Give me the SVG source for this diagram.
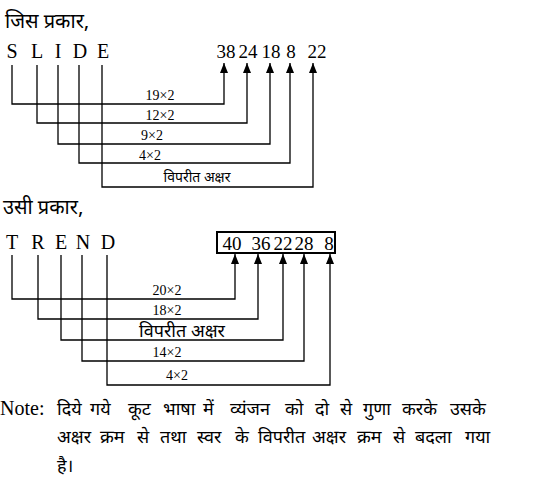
<svg xmlns="http://www.w3.org/2000/svg" width="558" height="494" viewBox="0 0 558 494">
<style>
.lt{font-family:"Liberation Serif","Times New Roman",serif;font-size:20px;fill:#000}
.num{font-family:"Liberation Serif","Times New Roman",serif;font-size:19px;fill:#000}
.lb{font-family:"Liberation Serif","Times New Roman",serif;font-size:14px;fill:#000;text-anchor:middle}
.hi{font-family:"Noto Sans Devanagari","Noto Serif Devanagari","Lohit Devanagari","Noto Sans","DejaVu Sans",sans-serif;fill:#000}
.nt{font-family:"Noto Sans Devanagari","Noto Serif Devanagari","Noto Sans",sans-serif;font-size:18px;fill:#000}
.ln{fill:none;stroke:#000;stroke-width:1.3}
</style>
<defs>
<marker id="ah" viewBox="0 0 10 8" refX="10" refY="4" markerWidth="10" markerHeight="8" markerUnits="userSpaceOnUse" orient="auto">
<path d="M0,0 L10,4 L0,8 Z" fill="#000"/>
</marker>
</defs>
<rect width="558" height="494" fill="#fff"/>
<g id="title1"><text class="hi" x="5" y="28" font-size="20">जिस प्रकार,</text></g>
<g id="slide">
<text class="lt" x="12" y="58" text-anchor="middle">S</text>
<text class="lt" x="37" y="58" text-anchor="middle">L</text>
<text class="lt" x="58" y="58" text-anchor="middle">I</text>
<text class="lt" x="80" y="58" text-anchor="middle">D</text>
<text class="lt" x="103" y="58" text-anchor="middle">E</text>
</g>
<g id="slide-out">
<text class="num" x="226" y="58" text-anchor="middle">38</text>
<text class="num" x="248" y="58" text-anchor="middle">24</text>
<text class="num" x="271" y="58" text-anchor="middle">18</text>
<text class="num" x="291" y="58" text-anchor="middle">8</text>
<text class="num" x="317" y="58" text-anchor="middle">22</text>
</g>
<g id="connectors1">
<path class="ln" d="M12,65 V104 H224 V63" marker-end="url(#ah)"/>
<path class="ln" d="M37,65 V123 H247 V63" marker-end="url(#ah)"/>
<path class="ln" d="M58,65 V144 H270 V63" marker-end="url(#ah)"/>
<path class="ln" d="M79,65 V163 H290 V63" marker-end="url(#ah)"/>
<path class="ln" d="M102,65 V187 H313 V63" marker-end="url(#ah)"/>
</g>
<g id="labels1">
<text class="lb" x="160" y="100">19×2</text>
<text class="lb" x="160" y="120">12×2</text>
<text class="lb" x="152" y="140">9×2</text>
<text class="lb" x="150" y="160">4×2</text>
<text class="hi" x="197" y="182" font-size="14" text-anchor="middle">विपरीत अक्षर</text>
</g>
<g id="title2"><text class="hi" x="3" y="214" font-size="20">उसी प्रकार,</text></g>
<g id="trend">
<text class="lt" x="12" y="249" text-anchor="middle">T</text>
<text class="lt" x="38" y="249" text-anchor="middle">R</text>
<text class="lt" x="61" y="249" text-anchor="middle">E</text>
<text class="lt" x="83" y="249" text-anchor="middle">N</text>
<text class="lt" x="108" y="249" text-anchor="middle">D</text>
</g>
<g id="trend-out">
<rect x="217" y="232" width="118" height="21" fill="none" stroke="#000" stroke-width="2"/>
<text class="num" x="232" y="250" text-anchor="middle">40</text>
<text class="num" x="261" y="250" text-anchor="middle">36</text>
<text class="num" x="283" y="250" text-anchor="middle">22</text>
<text class="num" x="304" y="250" text-anchor="middle">28</text>
<text class="num" x="329" y="250" text-anchor="middle">8</text>
</g>
<g id="connectors2">
<path class="ln" d="M12,255 V299 H235 V254" marker-end="url(#ah)"/>
<path class="ln" d="M38,255 V319 H258 V254" marker-end="url(#ah)"/>
<path class="ln" d="M61,255 V340 H283 V254" marker-end="url(#ah)"/>
<path class="ln" d="M82,255 V361 H304 V254" marker-end="url(#ah)"/>
<path class="ln" d="M107,255 V385 H330 V254" marker-end="url(#ah)"/>
</g>
<g id="labels2">
<text class="lb" x="167" y="295">20×2</text>
<text class="lb" x="167" y="315">18×2</text>
<text class="hi" x="182" y="337" font-size="18" text-anchor="middle">विपरीत अक्षर</text>
<text class="lb" x="167" y="357">14×2</text>
<text class="lb" x="177" y="380">4×2</text>
</g>
<g id="note">
<text class="lt" x="0" y="415" font-size="19">Note:</text>
<text class="nt" y="415"><tspan x="57">दिये</tspan> <tspan x="90">गये</tspan> <tspan x="128">कूट</tspan> <tspan x="163">भाषा</tspan> <tspan x="203">में</tspan> <tspan x="230">व्यंजन</tspan> <tspan x="285">को</tspan> <tspan x="315">दो</tspan> <tspan x="340">से</tspan> <tspan x="363">गुणा</tspan> <tspan x="402">करके</tspan> <tspan x="450">उसके</tspan></text>
<text class="nt" y="443"><tspan x="57">अक्षर</tspan> <tspan x="100">क्रम</tspan> <tspan x="137">से</tspan> <tspan x="160">तथा</tspan> <tspan x="197">स्वर</tspan> <tspan x="235">के</tspan> <tspan x="258">विपरीत</tspan> <tspan x="312">अक्षर</tspan> <tspan x="357">क्रम</tspan> <tspan x="393">से</tspan> <tspan x="415">बदला</tspan> <tspan x="465">गया</tspan></text>
<text class="nt" x="57" y="472">है।</text>
</g>
</svg>
